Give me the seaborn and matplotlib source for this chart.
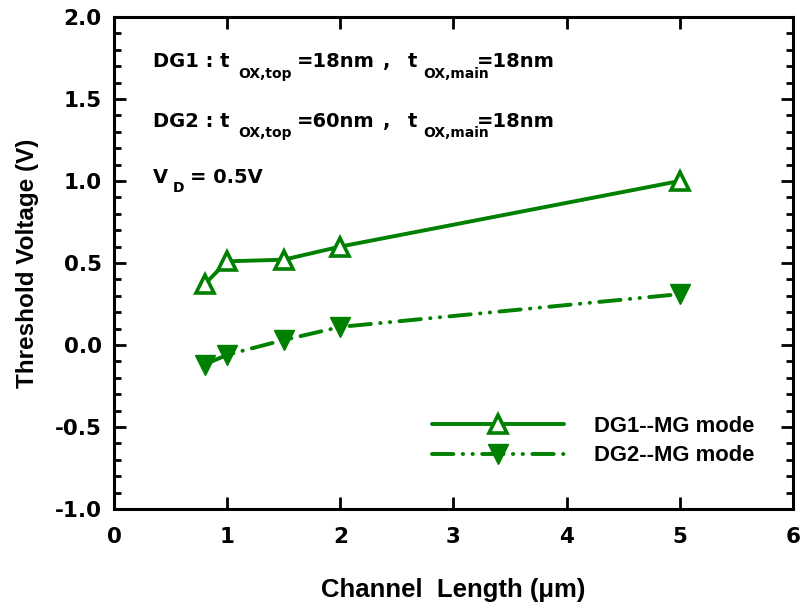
import matplotlib
matplotlib.use("Agg")
import matplotlib.pyplot as plt
from matplotlib.ticker import MultipleLocator
import seaborn as sns
import pandas as pd

# Channel length (um) and threshold voltage (V) for the two double-gate devices
channel_length = [0.8, 1.0, 1.5, 2.0, 5.0]
vth_dg1 = [0.37, 0.51, 0.52, 0.60, 1.00]
vth_dg2 = [-0.12, -0.06, 0.03, 0.11, 0.31]
series_labels = ["DG1--MG mode", "DG2--MG mode"]
x_ticks = [0, 1, 2, 3, 4, 5, 6]
y_ticks = [-1.0, -0.5, 0.0, 0.5, 1.0, 1.5, 2.0]

sns.set_theme(style="ticks")
plt.rcParams["font.family"] = ["Liberation Sans", "DejaVu Sans"]
plt.rcParams["font.weight"] = "bold"

WIDE = ["DejaVu Sans"]

df1 = pd.DataFrame({"L": channel_length, "Vth": vth_dg1})
df2 = pd.DataFrame({"L": channel_length, "Vth": vth_dg2})

fig = plt.figure(figsize=(8.03, 6.08), dpi=100)
ax = fig.add_axes([0.142, 0.163, 0.8455, 0.809])

green = "#008000"
sns.lineplot(data=df1, x="L", y="Vth", ax=ax, color=green, linewidth=2.8,
             marker="^", markersize=13, markerfacecolor="white",
             markeredgecolor=green, markeredgewidth=2.6, label=series_labels[0])
sns.lineplot(data=df2, x="L", y="Vth", ax=ax, color=green, linewidth=2.8,
             linestyle=(0, (5.5, 2.4, 0.1, 2.4, 0.1, 2.4)), dash_capstyle="round",
             marker="v", markersize=14, markerfacecolor=green,
             markeredgecolor=green, markeredgewidth=1.0, label=series_labels[1])

ax.set_xlim(0, 6)
ax.set_ylim(-1.0, 2.0)
ax.set_xticks(x_ticks)
ax.set_xticklabels([str(t) for t in x_ticks])
ax.set_yticks(y_ticks)
ax.set_yticklabels([f"{t:.1f}" for t in y_ticks])
ax.yaxis.set_minor_locator(MultipleLocator(0.1))

for s in ax.spines.values():
    s.set_visible(True)
    s.set_linewidth(2.2)
    s.set_color("black")

ax.tick_params(axis="both", which="major", direction="in", length=8.5, width=2.0,
               top=True, right=True, color="black", labelcolor="black")
ax.tick_params(axis="x", which="major", pad=13)
ax.tick_params(axis="y", which="major", pad=9)
ax.tick_params(axis="y", which="minor", direction="in", length=5, width=2.0,
               left=True, right=True, color="black")
ax.tick_params(axis="x", which="minor", bottom=False, top=False)
for lbl in ax.get_xticklabels() + ax.get_yticklabels():
    lbl.set_fontweight("bold")
    lbl.set_family(WIDE)
    lbl.set_fontsize(15.5)

ax.set_xlabel("Channel  Length (\u03bcm)", fontsize=18.5, fontweight="bold",
              color="black", labelpad=22)
ax.set_ylabel("Threshold Voltage (V)", fontsize=17.5, fontweight="bold",
              color="black", labelpad=11)


def note(x, y, s, size):
    ax.text(x, y, s, fontsize=size, family=WIDE, fontweight="bold",
            color="black", va="baseline", ha="left")


# Oxide thickness notes for both devices
for tag, top_nm, base, sub in [("DG1", "18nm", 1.693, 1.626),
                               ("DG2", "60nm", 1.331, 1.270)]:
    note(0.345, base, f"{tag} : t", 14)
    note(1.10, sub, "OX,top", 10)
    note(1.617, base, "=" + top_nm, 14)
    note(2.377, base, ",", 14)
    note(2.598, base, "t", 14)
    note(2.730, sub, "OX,main", 10)
    note(3.208, base, "=18nm", 14)

# Drain bias note
note(0.345, 0.986, "V", 14)
note(0.521, 0.933, "D", 10)
note(0.672, 0.986, "= 0.5V", 14)

leg = ax.legend(loc="upper left", bbox_to_anchor=(432 / 803, 1 - 416 / 608),
                bbox_transform=fig.transFigure, frameon=False,
                borderpad=0, borderaxespad=0,
                fontsize=15.8, handlelength=6.0, handletextpad=1.4, labelspacing=0.38)
for t in leg.get_texts():
    t.set_fontweight("bold")
    t.set_color("black")

ax.set_facecolor("white")
fig.patch.set_facecolor("white")
fig.savefig("out.png", dpi=100)
